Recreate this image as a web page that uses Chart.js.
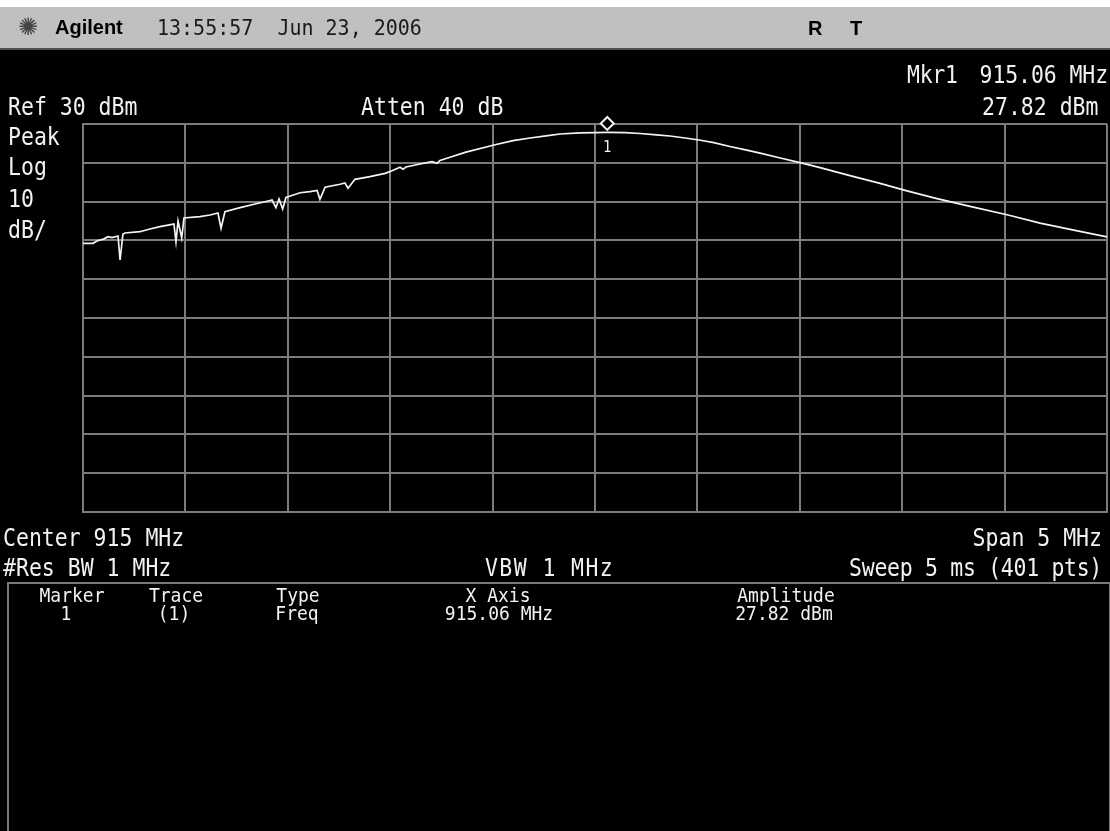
<!DOCTYPE html>
<html>
<head>
<meta charset="utf-8">
<script src="https://cdn.jsdelivr.net/npm/chart.js@4.4.1/dist/chart.umd.min.js"></script>
<style>
  html,body{margin:0;padding:0;background:#000;}
  #wrap{position:relative;width:1110px;height:831px;overflow:hidden;background:#000;}
  #topwhite{position:absolute;left:0;top:0;width:1110px;height:7px;background:#fff;}
  #hdr{position:absolute;left:0;top:7px;width:1110px;height:41px;background:#c0c0c0;border-bottom:2px solid #505050;}
  #panel{position:absolute;left:7px;top:582px;width:1100px;height:260px;border-top:2px solid #7a7a7a;border-left:2px solid #7a7a7a;border-right:2px solid #7a7a7a;}
  canvas{position:absolute;left:0;top:0;}
  .t{position:absolute;white-space:pre;line-height:1em;color:#f2f2f2;font-family:"DejaVu Sans Mono",monospace;}
  .m{font-size:21.5px;transform:scaleY(1.15);transform-origin:0 0.846em;}
  .s{font-size:18px;transform:scaleY(1.12);transform-origin:0 0.846em;}
  .h{font-size:20px;color:#1a1a1a;transform:scaleY(1.08);transform-origin:0 0.846em;}
  .b{font-family:"Liberation Sans",Arial,sans-serif;font-weight:bold;font-size:20px;color:#000;}
  .logo{font-family:"DejaVu Sans",sans-serif;font-size:24px;color:#444;}
</style>
</head>
<body>
<div id="wrap">
  <div id="topwhite"></div>
  <div id="hdr"></div>
  <div id="panel"></div>
  <canvas id="c" width="1110" height="831"></canvas>
</div>
<script>
// ---- data ----
const freqMHz = [
  912.500, 912.549, 912.568, 912.603, 912.622, 912.642, 912.671, 912.681, 912.695, 912.705,
  912.778, 912.827, 912.876, 912.935, 912.944, 912.954, 912.964, 912.982, 912.993, 913.071,
  913.120, 913.159, 913.174, 913.193, 913.267, 913.340, 913.389, 913.423, 913.442, 913.457,
  913.475, 913.491, 913.501, 913.560, 913.608, 913.643, 913.657, 913.682, 913.755, 913.779,
  913.794, 913.828, 913.901, 913.975, 914.009, 914.048, 914.063, 914.077, 914.146, 914.204,
  914.229, 914.243, 914.292, 914.370, 914.507, 914.600, 914.683, 914.770, 914.829, 914.927,
  915.000, 915.059, 915.147, 915.220, 915.300, 915.366, 915.440, 915.508, 915.580, 915.659,
  915.730, 915.806, 915.900, 916.016, 916.099, 916.245, 916.392, 916.514, 916.660, 916.831,
  917.017, 917.173, 917.344, 917.500
];
const levelDbm = [
  -0.75, -0.75, -0.15, 0.40, 0.95, 0.70, 1.13, -5.05, 1.65, 1.91,
  2.24, 2.94, 3.53, 4.15, 4.23, -0.34, 5.00, 0.62, 5.77, 6.11,
  6.55, 7.06, 3.12, 7.40, 8.43, 9.38, 9.97, 10.41, 8.43, 10.67,
  8.09, 11.06, 11.26, 12.29, 12.55, 12.86, 10.59, 13.69, 14.46, 14.79,
  13.43, 15.75, 16.42, 17.29, 17.96, 18.84, 18.32, 18.92, 19.69, 20.28,
  19.87, 20.59, 21.42, 22.75, 24.59, 25.70, 26.39, 27.00, 27.42, 27.72,
  27.80, 27.82, 27.76, 27.55, 27.20, 26.91, 26.40, 25.88, 25.20, 24.20,
  23.40, 22.48, 21.30, 19.85, 18.75, 16.70, 14.70, 12.90, 10.90, 8.75,
  6.55, 4.45, 2.60, 0.90
];
const markerFreq = 915.06;
const markerAmp = 27.82;
const freqStart = 912.5, freqStop = 917.5, freqDiv = 0.5;
const refLevel = 30, dbPerDiv = 10, numDivs = 10;

// ---- text helper ----
const wrap = document.getElementById('wrap');
function sizeOf(cls){
  if(cls.includes('logo')) return 24;
  if(cls.includes('b')) return 20;
  if(cls.includes('m')) return 21.5;
  if(cls.includes('s')) return 18;
  if(cls.includes('h')) return 20;
  return 20;
}
function put(text, x, baseline, cls, align, extra){
  const d = document.createElement('div');
  d.className = 't ' + cls;
  d.textContent = text;
  const fs = sizeOf(cls);
  d.style.top = (baseline - 0.846*fs) + 'px';
  if(align === 'right'){ d.style.right = (1110 - x) + 'px'; d.style.transformOrigin = '100% 0.846em'; }
  else if(align === 'center'){ d.style.left = x + 'px'; d.style.transform = 'translateX(-50%)' + (cls.includes('m')?' scaleY(1.15)':cls.includes('s')?' scaleY(1.12)':''); }
  else d.style.left = x + 'px';
  if(extra) Object.assign(d.style, extra);
  wrap.appendChild(d);
  return d;
}

// header
put('\u273A', 18, 35, 'logo');
put('Agilent', 55, 34, 'b');
put('13:55:57  Jun 23, 2006', 157, 35, 'h');
put('R', 808, 35, 'b');
put('T', 850, 35, 'b');

// annotations
put('Mkr1', 907, 83, 'm', null, {letterSpacing:'-0.3px'});
put('915.06 MHz', 1108, 83, 'm', 'right', {letterSpacing:'-0.1px'});
put('Ref 30 dBm', 8, 115, 'm');
put('Atten 40 dB', 361, 115, 'm');
put('27.82 dBm', 982, 115, 'm');
put('Peak', 8, 145, 'm');
put('Log', 8, 175, 'm');
put('10', 8, 207, 'm');
put('dB/', 8, 238, 'm');
put('Center 915 MHz', 3, 546, 'm');
put('Span 5 MHz', 1102, 546, 'm', 'right');
put('#Res BW 1 MHz', 3, 576, 'm');
put('VBW 1 MHz', 485, 576, 'm', null, {letterSpacing:'1.4px'});
put('Sweep 5 ms (401 pts)', 1102, 576, 'm', 'right', {letterSpacing:'-0.3px'});

// marker table
put('Marker', 72, 602, 's', 'center');
put('Trace', 176, 602, 's', 'center');
put('Type', 298, 602, 's', 'center');
put('X Axis', 498, 602, 's', 'center');
put('Amplitude', 786, 602, 's', 'center');
put('1', 66, 620, 's', 'center');
put('(1)', 174, 620, 's', 'center');
put('Freq', 297, 620, 's', 'center');
put('915.06 MHz', 499, 620, 's', 'center');
put('27.82 dBm', 784, 620, 's', 'center');

const mkLabel = put('1', 0, 0, 's', 'center');
mkLabel.style.fontSize = '14px';

// ---- chart ----
const gridColor = '#7c7c7c';
const markerPlugin = {
  id: 'markerPlugin',
  afterDatasetsDraw(chart){
    const {ctx, scales} = chart;
    const px = scales.x.getPixelForValue(markerFreq);
    const py = scales.y.getPixelForValue(markerAmp);
    const cy = py - 9, r = 6.5;
    ctx.save();
    ctx.beginPath();
    ctx.moveTo(px, cy - r); ctx.lineTo(px + r, cy); ctx.lineTo(px, cy + r); ctx.lineTo(px - r, cy); ctx.closePath();
    ctx.fillStyle = '#000'; ctx.fill();
    ctx.strokeStyle = '#f4f4f4'; ctx.lineWidth = 2; ctx.stroke();
    ctx.restore();
    mkLabel.style.left = px + 'px';
    mkLabel.style.top = (py + 19 - 0.846*14) + 'px';
  }
};

new Chart(document.getElementById('c'), {
  type: 'line',
  data: {
    datasets: [{
      data: freqMHz.map((f, i) => ({x: f, y: levelDbm[i]})),
      borderColor: '#f4f4f4',
      borderWidth: 1.7,
      pointRadius: 0,
      tension: 0,
      fill: false
    }]
  },
  options: {
    responsive: false,
    animation: false,
    events: [],
    layout: {padding: {left: 83, top: 124, right: 3, bottom: 319}},
    plugins: {legend: {display: false}, tooltip: {enabled: false}, title: {display: false}},
    scales: {
      x: {
        type: 'linear', min: freqStart, max: freqStop,
        ticks: {display: false, stepSize: freqDiv},
        grid: {color: gridColor, lineWidth: 2, drawTicks: false, tickLength: 0},
        border: {display: true, color: gridColor, width: 2},
        afterFit(s){ s.height = 0; }
      },
      y: {
        type: 'linear', min: refLevel - dbPerDiv*numDivs, max: refLevel,
        ticks: {display: false, stepSize: dbPerDiv},
        grid: {color: gridColor, lineWidth: 2, drawTicks: false, tickLength: 0},
        border: {display: true, color: gridColor, width: 2},
        afterFit(s){ s.width = 0; }
      }
    }
  },
  plugins: [markerPlugin]
});
</script>
</body>
</html>
